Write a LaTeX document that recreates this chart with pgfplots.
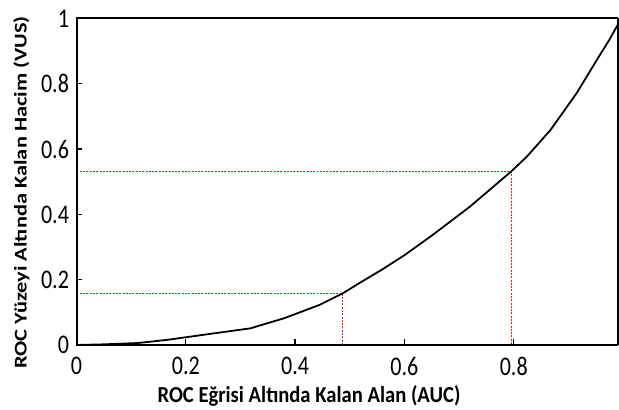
\documentclass[border=0pt]{standalone}
\usepackage{pgfplots}
\pgfplotsset{compat=1.18}
\usepackage{fontspec}
\setmainfont{Carlito}
\newfontfamily\xlabfont[FakeStretch=0.9]{Carlito}
\newfontfamily\ylabfont[FakeStretch=1.25]{Carlito}
\newfontfamily\tickfont[FakeStretch=0.82]{Carlito}
\definecolor{dred}{RGB}{225,30,30}
\begin{document}
\begin{tikzpicture}
\begin{axis}[
  name=ax,
  scale only axis, width=541.5bp, height=326.5bp,
  xmin=0, xmax=0.9908, ymin=0, ymax=1,
  separate axis lines,
  axis line style={line width=1.8pt, black},
  xtick={0,0.2,0.4,0.6,0.8}, ytick={0,0.2,0.4,0.6,0.8,1},
  tick pos=left,
  tick align=inside, major tick length=6bp,
  tick style={line width=1.3pt, black},
  xticklabels={0,0.2,0.4,0.6,0.8},
  yticklabels={0,0.2,0.4,0.6,0.8,1},
  /pgf/number format/assume math mode=true,
  tick label style={font=\tickfont\fontsize{27}{28}\selectfont},
  xticklabel style={yshift=-9bp},
  yticklabel style={xshift=-4bp},
  xlabel={ROC Eğrisi Altında Kalan Alan (AUC)},
  ylabel={ROC Yüzeyi Altında Kalan Hacim (VUS)},
  x label style={font=\xlabfont\bfseries\fontsize{23}{24}\selectfont, at={(axis description cs:0.4293,0)}, anchor=center, yshift=-51bp},
  y label style={font=\ylabfont\bfseries\fontsize{18}{19}\selectfont, at={(axis description cs:-0.1016,0.467)}, anchor=center},
  clip=false,
]
\addplot[dred, dash pattern=on 2pt off 1.3pt, line width=1pt] coordinates {(0,0.158) (0.487,0.158) (0.487,0)};
\addplot[dred, dash pattern=on 2pt off 1.3pt, line width=1pt] coordinates {(0,0.531) (0.795,0.531) (0.795,0)};
\addplot[black, line width=1.8pt] coordinates {
(0,0) (0.05,0.002) (0.112,0.006) (0.167,0.016) (0.24,0.033) (0.318,0.051)
(0.38,0.082) (0.445,0.123) (0.487,0.158) (0.518,0.19) (0.56,0.232) (0.6,0.275)
(0.65,0.335) (0.72,0.424) (0.795,0.531) (0.824,0.577) (0.867,0.658)
(0.915,0.771) (0.952,0.873) (0.975,0.935) (0.99,0.98)
};
\end{axis}
\fill[black] ([xshift=-1bp,yshift=-1bp]ax.south west) rectangle ([xshift=1bp,yshift=1bp]ax.north west);
\fill[black] ([xshift=-1bp,yshift=-1bp]ax.north west) rectangle ([yshift=1bp]ax.north east);
\pgfresetboundingbox
\useasboundingbox (ax.south west) ++(-76.5bp,-65bp) rectangle ++(619bp,410bp);
\end{tikzpicture}
\end{document}
